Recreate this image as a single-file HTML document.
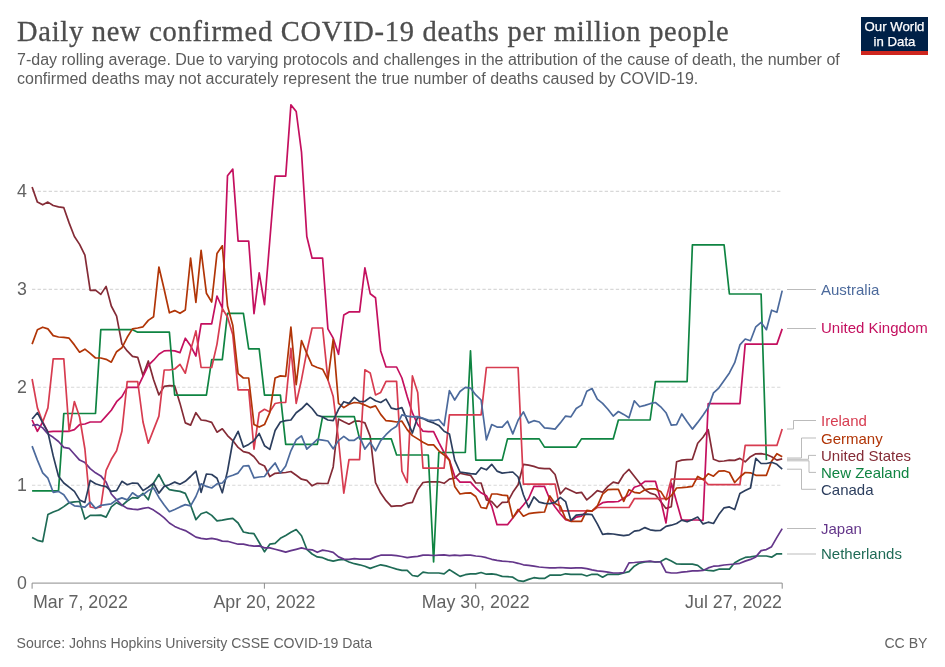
<!DOCTYPE html>
<html><head><meta charset="utf-8"><title>Daily new confirmed COVID-19 deaths per million people</title>
<style>
html,body{margin:0;padding:0;background:#fff;}
body{width:945px;height:667px;position:relative;overflow:hidden;font-family:"Liberation Sans",Arial,sans-serif;}
.title{position:absolute;left:17px;top:14px;font-family:"Liberation Serif",Georgia,serif;font-size:28.5px;line-height:36px;color:#4d4d4d;white-space:nowrap;letter-spacing:0.72px;-webkit-text-stroke:0.3px #4d4d4d;}
.sub{position:absolute;left:17px;top:50px;font-size:16px;line-height:19.3px;color:#5b5b5b;white-space:nowrap;}
.src{position:absolute;left:16.5px;top:634.7px;font-size:14.1px;line-height:16px;color:#636363;white-space:nowrap;}
.cc{position:absolute;right:17.5px;top:634.7px;font-size:14.1px;line-height:16px;color:#636363;white-space:nowrap;}
.logo{position:absolute;left:861px;top:17px;width:67px;height:34.4px;background:#002147;border-bottom:4px solid #ce261e;color:#fff;text-align:center;font-size:13.2px;line-height:14.5px;font-weight:normal;letter-spacing:0px;-webkit-text-stroke:0.25px #fff;}
.logo span{display:block;}
.logo .l1{margin-top:3.3px;}
svg text.ax{font-family:"Liberation Sans",Arial,sans-serif;font-size:17.8px;fill:#626262;}
svg text.lg{font-family:"Liberation Sans",Arial,sans-serif;font-size:15px;}
</style></head><body>
<div class="title">Daily new confirmed COVID-19 deaths per million people</div>
<div class="sub">7-day rolling average. Due to varying protocols and challenges in the attribution of the cause of death, the number of<br>confirmed deaths may not accurately represent the true number of deaths caused by COVID-19.</div>
<div class="logo"><span class="l1">Our World</span><span>in Data</span></div>
<svg width="945" height="667" viewBox="0 0 945 667" style="position:absolute;left:0;top:0">
<line x1="32" x2="782" y1="485.2" y2="485.2" stroke="#d8d8d8" stroke-width="1.1" stroke-dasharray="3.34,2.22"/>
<line x1="32" x2="782" y1="387.2" y2="387.2" stroke="#d8d8d8" stroke-width="1.1" stroke-dasharray="3.34,2.22"/>
<line x1="32" x2="782" y1="289.4" y2="289.4" stroke="#d8d8d8" stroke-width="1.1" stroke-dasharray="3.34,2.22"/>
<line x1="32" x2="782" y1="191.4" y2="191.4" stroke="#d8d8d8" stroke-width="1.1" stroke-dasharray="3.34,2.22"/>
<path d="M32.1,588.7 V583.1 H782.2 V588.7" fill="none" stroke="#8c8c8c" stroke-width="1"/>
<line x1="264.4" x2="264.4" y1="583" y2="588.7" stroke="#8c8c8c" stroke-width="1"/>
<line x1="475.7" x2="475.7" y1="583" y2="588.7" stroke="#8c8c8c" stroke-width="1"/>
<text x="27" y="588.9" text-anchor="end" class="ax">0</text>
<text x="27" y="491.0" text-anchor="end" class="ax">1</text>
<text x="27" y="393.0" text-anchor="end" class="ax">2</text>
<text x="27" y="295.2" text-anchor="end" class="ax">3</text>
<text x="27" y="197.2" text-anchor="end" class="ax">4</text>
<text x="33" y="607.8" class="ax">Mar 7, 2022</text>
<text x="264.4" y="607.8" text-anchor="middle" class="ax">Apr 20, 2022</text>
<text x="475.7" y="607.8" text-anchor="middle" class="ax">May 30, 2022</text>
<text x="782" y="607.8" text-anchor="end" class="ax">Jul 27, 2022</text>
<path d="M32.1,187.0 L37.4,202.1 L42.7,204.8 L47.9,202.1 L53.2,205.5 L58.5,206.9 L63.8,207.7 L69.1,222.9 L74.4,236.5 L79.6,244.4 L84.9,255.1 L90.2,290.3 L95.5,290.2 L100.8,294.4 L106.1,286.4 L111.3,306.0 L116.6,316.2 L121.9,344.1 L127.2,350.9 L132.5,356.3 L137.7,357.3 L143.0,375.4 L148.3,361.0 L153.6,379.7 L158.9,394.9 L164.2,386.4 L169.4,385.6 L174.7,385.9 L180.0,403.4 L185.3,422.9 L190.6,425.1 L195.9,412.7 L201.1,420.0 L206.4,420.7 L211.7,422.4 L217.0,432.2 L222.3,428.8 L227.5,435.6 L232.8,440.6 L238.1,447.4 L243.4,451.6 L248.7,452.8 L254.0,456.7 L259.2,463.5 L264.5,466.0 L269.8,476.5 L275.1,473.3 L280.4,472.8 L285.7,472.5 L290.9,471.5 L296.2,475.3 L301.5,479.2 L306.8,480.4 L312.1,485.8 L317.3,483.3 L322.6,483.5 L327.9,483.5 L333.2,466.9 L338.5,419.0 L343.8,421.7 L349.0,424.2 L354.3,421.2 L359.6,421.2 L364.9,422.9 L370.2,436.4 L375.5,482.6 L380.7,493.1 L386.0,500.7 L391.3,506.3 L396.6,505.8 L401.9,505.8 L407.2,503.3 L412.4,502.4 L417.7,489.7 L423.0,482.5 L428.3,481.8 L433.6,481.8 L438.8,481.8 L444.1,483.3 L449.4,479.2 L454.7,478.2 L460.0,473.1 L465.3,474.5 L470.5,475.3 L475.8,483.0 L481.1,483.0 L486.4,499.9 L491.7,501.6 L497.0,507.5 L502.2,502.4 L507.5,502.1 L512.8,492.3 L518.1,484.7 L523.4,464.3 L528.6,465.2 L533.9,466.4 L539.2,468.2 L544.5,468.6 L549.8,468.6 L555.1,474.5 L560.3,494.0 L565.6,488.0 L570.9,490.6 L576.2,493.1 L581.5,492.3 L586.8,499.9 L592.0,495.7 L597.3,490.6 L602.6,492.3 L607.9,486.4 L613.2,482.1 L618.4,483.3 L623.7,474.5 L629.0,469.4 L634.3,476.2 L639.6,483.0 L644.9,489.7 L650.1,493.1 L655.4,494.8 L660.7,501.6 L666.0,508.4 L671.3,506.7 L676.6,461.8 L681.8,460.1 L687.1,459.6 L692.4,459.3 L697.7,443.2 L703.0,437.3 L708.2,429.6 L713.5,459.3 L718.8,461.3 L724.1,461.0 L729.4,460.1 L734.7,460.4 L739.9,458.4 L745.2,461.8 L750.5,456.7 L755.8,453.8 L761.1,453.7 L766.4,454.5 L771.6,456.7 L776.9,460.1 L782.2,458.8" fill="none" stroke="#842B36" stroke-width="1.7" stroke-linejoin="round" stroke-linecap="butt"/>
<path d="M32.1,420.0 L37.4,431.3 L42.7,422.0 L47.9,431.8 L53.2,431.3 L58.5,431.3 L63.8,431.3 L69.1,431.3 L74.4,429.6 L79.6,424.6 L84.9,424.0 L90.2,422.0 L95.5,422.0 L100.8,422.0 L106.1,416.1 L111.3,410.2 L116.6,401.7 L121.9,396.6 L127.2,387.3 L132.5,387.3 L137.7,387.3 L143.0,376.3 L148.3,365.3 L153.6,360.2 L158.9,354.3 L164.2,350.9 L169.4,350.5 L174.7,350.9 L180.0,352.6 L185.3,338.2 L190.6,345.8 L195.9,356.0 L201.1,323.8 L206.4,323.8 L211.7,323.8 L217.0,296.0 L222.3,308.0 L227.5,175.8 L232.8,169.1 L238.1,241.1 L243.4,241.1 L248.7,241.1 L254.0,313.6 L259.2,272.9 L264.5,304.7 L269.8,240.5 L275.1,176.1 L280.4,176.1 L285.7,176.1 L290.9,104.9 L296.2,111.5 L301.5,152.1 L306.8,236.5 L312.1,258.2 L317.3,258.2 L322.6,258.2 L327.9,328.9 L333.2,338.2 L338.5,354.3 L343.8,315.0 L349.0,311.9 L354.3,311.9 L359.6,311.9 L364.9,267.8 L370.2,293.7 L375.5,297.7 L380.7,350.9 L386.0,367.0 L391.3,367.0 L396.6,367.0 L401.9,378.0 L407.2,396.6 L412.4,412.9 L417.7,424.5 L423.0,431.2 L428.3,431.7 L433.6,431.7 L438.8,442.3 L444.1,452.5 L449.4,460.1 L454.7,476.2 L460.0,482.1 L465.3,482.1 L470.5,482.1 L475.8,488.0 L481.1,492.8 L486.4,495.7 L491.7,506.0 L497.0,524.7 L502.2,524.7 L507.5,524.7 L512.8,517.9 L518.1,511.2 L523.4,505.0 L528.6,498.5 L533.9,486.4 L539.2,486.4 L544.5,486.4 L549.8,499.3 L555.1,506.9 L560.3,513.7 L565.6,519.6 L570.9,521.3 L576.2,517.1 L581.5,516.2 L586.8,511.2 L592.0,511.2 L597.3,506.1 L602.6,502.7 L607.9,501.9 L613.2,501.9 L618.4,501.5 L623.7,498.1 L629.0,495.1 L634.3,487.2 L639.6,485.5 L644.9,481.3 L650.1,481.3 L655.4,481.3 L660.7,499.9 L666.0,523.0 L671.3,483.0 L676.6,502.0 L681.8,520.2 L687.1,520.2 L692.4,520.0 L697.7,520.0 L703.0,520.5 L708.2,403.7 L713.5,403.7 L718.8,403.7 L724.1,403.7 L729.4,403.7 L734.7,403.7 L739.9,403.7 L745.2,344.1 L750.5,344.1 L755.8,344.1 L761.1,344.1 L766.4,344.1 L771.6,344.1 L776.9,344.1 L782.2,328.9" fill="none" stroke="#C4105F" stroke-width="1.7" stroke-linejoin="round" stroke-linecap="butt"/>
<path d="M32.1,490.9 L37.4,490.9 L42.7,490.9 L47.9,490.9 L53.2,490.9 L58.5,490.9 L63.8,413.5 L69.1,413.5 L74.4,413.5 L79.6,413.5 L84.9,413.5 L90.2,413.5 L95.5,413.5 L100.8,329.7 L106.1,329.7 L111.3,329.7 L116.6,329.7 L121.9,329.7 L127.2,329.7 L132.5,329.7 L137.7,332.2 L143.0,332.2 L148.3,332.2 L153.6,332.2 L158.9,332.2 L164.2,332.2 L169.4,332.2 L174.7,395.2 L180.0,395.2 L185.3,395.2 L190.6,395.2 L195.9,395.2 L201.1,395.2 L206.4,395.2 L211.7,359.7 L217.0,359.7 L222.3,359.7 L227.5,313.3 L232.8,313.3 L238.1,313.3 L243.4,313.3 L248.7,348.8 L254.0,348.8 L259.2,348.8 L264.5,395.2 L269.8,395.2 L275.1,395.2 L280.4,395.2 L285.7,444.4 L290.9,444.4 L296.2,444.4 L301.5,444.4 L306.8,444.4 L312.1,444.4 L317.3,444.4 L322.6,416.6 L327.9,416.6 L333.2,416.6 L338.5,416.6 L343.8,416.6 L349.0,416.6 L354.3,416.6 L359.6,438.9 L364.9,438.9 L370.2,438.9 L375.5,438.9 L380.7,438.9 L386.0,438.9 L391.3,438.9 L396.6,455.0 L401.9,455.0 L407.2,455.0 L412.4,455.0 L417.7,455.0 L423.0,455.0 L428.3,455.0 L433.6,562.0 L438.8,452.5 L444.1,452.5 L449.4,452.5 L454.7,452.5 L460.0,452.5 L465.3,452.5 L470.5,350.9 L475.8,460.1 L481.1,460.1 L486.4,460.1 L491.7,460.1 L497.0,460.1 L502.2,460.1 L507.5,438.9 L512.8,438.9 L518.1,438.9 L523.4,438.9 L528.6,438.9 L533.9,438.9 L539.2,438.9 L544.5,447.1 L549.8,447.1 L555.1,447.1 L560.3,447.1 L565.6,447.1 L570.9,447.1 L576.2,447.1 L581.5,438.9 L586.8,438.9 L592.0,438.9 L597.3,438.9 L602.6,438.9 L607.9,438.9 L613.2,438.9 L618.4,420.0 L623.7,420.0 L629.0,420.0 L634.3,420.0 L639.6,420.0 L644.9,420.0 L650.1,420.0 L655.4,381.7 L660.7,381.7 L666.0,381.7 L671.3,381.7 L676.6,381.7 L681.8,381.7 L687.1,381.7 L692.4,244.9 L697.7,244.9 L703.0,244.9 L708.2,244.9 L713.5,244.9 L718.8,244.9 L724.1,244.9 L729.4,294.0 L734.7,294.0 L739.9,294.0 L745.2,294.0 L750.5,294.0 L755.8,294.0 L761.1,294.0 L766.4,460.1" fill="none" stroke="#0F8442" stroke-width="1.7" stroke-linejoin="round" stroke-linecap="butt"/>
<path d="M32.1,537.4 L37.4,540.3 L42.7,541.6 L47.9,514.6 L53.2,512.0 L58.5,510.0 L63.8,506.6 L69.1,502.7 L74.4,501.9 L79.6,501.5 L84.9,519.1 L90.2,515.4 L95.5,515.4 L100.8,515.1 L106.1,517.1 L111.3,506.9 L116.6,502.7 L121.9,505.6 L127.2,501.0 L132.5,497.6 L137.7,498.1 L143.0,493.4 L148.3,499.8 L153.6,483.0 L158.9,474.5 L164.2,484.7 L169.4,489.7 L174.7,490.6 L180.0,491.4 L185.3,493.4 L190.6,505.2 L195.9,519.6 L201.1,513.7 L206.4,512.0 L211.7,515.4 L217.0,520.8 L222.3,520.1 L227.5,519.1 L232.8,518.4 L238.1,523.0 L243.4,532.0 L248.7,533.2 L254.0,533.7 L259.2,542.5 L264.5,551.8 L269.8,544.2 L275.1,543.3 L280.4,538.3 L285.7,535.4 L290.9,532.3 L296.2,529.5 L301.5,535.7 L306.8,549.3 L312.1,554.0 L317.3,556.9 L322.6,557.7 L327.9,559.9 L333.2,561.1 L338.5,559.8 L343.8,559.4 L349.0,562.0 L354.3,563.7 L359.6,564.8 L364.9,566.2 L370.2,568.4 L375.5,566.5 L380.7,564.8 L386.0,565.9 L391.3,567.5 L396.6,569.1 L401.9,570.4 L407.2,570.4 L412.4,575.5 L417.7,576.4 L423.0,572.1 L428.3,573.0 L433.6,573.0 L438.8,573.0 L444.1,573.8 L449.4,569.6 L454.7,573.0 L460.0,576.4 L465.3,574.7 L470.5,573.8 L475.8,573.8 L481.1,572.5 L486.4,574.2 L491.7,573.8 L497.0,574.7 L502.2,576.4 L507.5,576.7 L512.8,577.2 L518.1,580.6 L523.4,581.4 L528.6,579.4 L533.9,577.7 L539.2,578.4 L544.5,578.4 L549.8,575.2 L555.1,575.2 L560.3,575.2 L565.6,573.8 L570.9,574.3 L576.2,574.3 L581.5,574.3 L586.8,576.0 L592.0,574.3 L597.3,574.3 L602.6,577.2 L607.9,574.3 L613.2,574.3 L618.4,574.3 L623.7,573.0 L629.0,571.6 L634.3,566.2 L639.6,563.1 L644.9,562.0 L650.1,561.5 L655.4,562.0 L660.7,561.5 L666.0,558.6 L671.3,561.1 L676.6,564.0 L681.8,564.2 L687.1,564.2 L692.4,564.2 L697.7,565.3 L703.0,569.6 L708.2,570.4 L713.5,570.9 L718.8,569.2 L724.1,569.1 L729.4,569.1 L734.7,562.8 L739.9,559.8 L745.2,557.4 L750.5,556.9 L755.8,556.0 L761.1,556.0 L766.4,556.0 L771.6,557.2 L776.9,553.8 L782.2,553.8" fill="none" stroke="#1F6B56" stroke-width="1.7" stroke-linejoin="round" stroke-linecap="butt"/>
<path d="M32.1,425.4 L37.4,424.6 L42.7,427.9 L47.9,433.9 L53.2,437.3 L58.5,441.5 L63.8,447.4 L69.1,448.3 L74.4,454.2 L79.6,460.1 L84.9,462.6 L90.2,468.6 L95.5,472.8 L100.8,475.9 L106.1,482.1 L111.3,494.0 L116.6,499.9 L121.9,505.0 L127.2,508.4 L132.5,509.2 L137.7,509.7 L143.0,508.4 L148.3,507.5 L153.6,510.1 L158.9,513.7 L164.2,517.9 L169.4,523.0 L174.7,526.4 L180.0,528.8 L185.3,530.6 L190.6,533.7 L195.9,537.1 L201.1,538.3 L206.4,539.1 L211.7,538.3 L217.0,539.4 L222.3,541.1 L227.5,541.3 L232.8,542.8 L238.1,544.2 L243.4,544.2 L248.7,545.4 L254.0,546.2 L259.2,545.9 L264.5,547.9 L269.8,547.9 L275.1,549.3 L280.4,550.6 L285.7,552.1 L290.9,550.6 L296.2,549.3 L301.5,547.9 L306.8,549.3 L312.1,549.8 L317.3,552.3 L322.6,550.1 L327.9,551.0 L333.2,552.3 L338.5,556.9 L343.8,559.1 L349.0,559.4 L354.3,558.6 L359.6,559.1 L364.9,559.1 L370.2,559.1 L375.5,556.9 L380.7,555.2 L386.0,555.2 L391.3,555.2 L396.6,555.7 L401.9,556.5 L407.2,557.7 L412.4,556.9 L417.7,556.4 L423.0,555.2 L428.3,555.2 L433.6,555.5 L438.8,555.2 L444.1,554.8 L449.4,555.7 L454.7,555.2 L460.0,555.7 L465.3,555.2 L470.5,555.2 L475.8,556.0 L481.1,556.5 L486.4,557.7 L491.7,559.3 L497.0,560.3 L502.2,561.1 L507.5,561.5 L512.8,562.0 L518.1,563.3 L523.4,564.8 L528.6,565.3 L533.9,566.2 L539.2,567.0 L544.5,567.5 L549.8,567.9 L555.1,567.9 L560.3,567.5 L565.6,567.9 L570.9,568.2 L576.2,567.9 L581.5,567.9 L586.8,568.7 L592.0,569.9 L597.3,570.8 L602.6,571.3 L607.9,572.1 L613.2,573.0 L618.4,573.0 L623.7,572.6 L629.0,562.8 L634.3,562.5 L639.6,562.0 L644.9,561.5 L650.1,561.1 L655.4,562.0 L660.7,562.0 L666.0,572.1 L671.3,573.0 L676.6,573.0 L681.8,572.1 L687.1,571.6 L692.4,570.9 L697.7,570.8 L703.0,570.4 L708.2,567.9 L713.5,566.2 L718.8,565.9 L724.1,565.0 L729.4,564.5 L734.7,564.0 L739.9,563.3 L745.2,561.1 L750.5,559.4 L755.8,556.9 L761.1,550.6 L766.4,549.6 L771.6,546.7 L776.9,537.4 L782.2,528.6" fill="none" stroke="#64368A" stroke-width="1.7" stroke-linejoin="round" stroke-linecap="butt"/>
<path d="M32.1,379.0 L37.4,407.9 L42.7,422.0 L47.9,407.9 L53.2,358.8 L58.5,358.8 L63.8,358.8 L69.1,431.3 L74.4,401.5 L79.6,417.0 L84.9,449.0 L90.2,507.0 L95.5,508.0 L100.8,507.0 L106.1,470.3 L111.3,459.3 L116.6,450.8 L121.9,431.3 L127.2,381.7 L132.5,381.7 L137.7,381.7 L143.0,422.0 L148.3,443.2 L153.6,429.6 L158.9,416.1 L164.2,370.0 L169.4,370.0 L174.7,369.0 L180.0,364.4 L185.3,373.2 L190.6,350.5 L195.9,330.9 L201.1,367.5 L206.4,367.5 L211.7,367.5 L217.0,344.1 L222.3,308.5 L227.5,317.0 L232.8,334.8 L238.1,389.8 L243.4,389.8 L248.7,389.8 L254.0,449.1 L259.2,412.7 L264.5,409.3 L269.8,411.9 L275.1,403.5 L280.4,402.5 L285.7,402.5 L290.9,348.3 L296.2,403.4 L301.5,379.7 L306.8,351.7 L312.1,328.0 L317.3,328.0 L322.6,328.0 L327.9,379.7 L333.2,396.6 L338.5,440.0 L343.8,493.1 L349.0,459.6 L354.3,459.6 L359.6,459.6 L364.9,369.8 L370.2,372.9 L375.5,394.9 L380.7,392.4 L386.0,381.4 L391.3,381.4 L396.6,381.4 L401.9,471.1 L407.2,482.5 L412.4,375.9 L417.7,392.4 L423.0,468.2 L428.3,468.2 L433.6,468.2 L438.8,468.2 L444.1,468.2 L449.4,414.9 L454.7,414.9 L460.0,414.9 L465.3,414.9 L470.5,414.9 L475.8,414.9 L481.1,414.9 L486.4,367.5 L491.7,367.5 L497.0,367.5 L502.2,367.5 L507.5,367.5 L512.8,367.5 L518.1,367.5 L523.4,484.2 L528.6,484.2 L533.9,484.2 L539.2,484.2 L544.5,484.2 L549.8,484.2 L555.1,484.2 L560.3,510.9 L565.6,510.9 L570.9,510.9 L576.2,510.9 L581.5,510.9 L586.8,510.9 L592.0,510.9 L597.3,507.5 L602.6,507.5 L607.9,507.5 L613.2,507.5 L618.4,507.5 L623.7,507.5 L629.0,507.5 L634.3,498.7 L639.6,498.7 L644.9,498.7 L650.1,498.7 L655.4,498.7 L660.7,498.7 L666.0,498.7 L671.3,479.2 L676.6,479.2 L681.8,479.2 L687.1,479.2 L692.4,479.2 L697.7,479.2 L703.0,479.2 L708.2,484.7 L713.5,484.7 L718.8,484.7 L724.1,484.7 L729.4,484.7 L734.7,484.7 L739.9,484.7 L745.2,445.4 L750.5,445.4 L755.8,445.4 L761.1,445.4 L766.4,445.4 L771.6,445.4 L776.9,445.4 L782.2,429.1" fill="none" stroke="#D73C50" stroke-width="1.7" stroke-linejoin="round" stroke-linecap="butt"/>
<path d="M32.1,344.1 L37.4,329.7 L42.7,327.2 L47.9,328.9 L53.2,335.6 L58.5,337.0 L63.8,337.3 L69.1,338.2 L74.4,344.9 L79.6,352.2 L84.9,349.2 L90.2,353.4 L95.5,358.0 L100.8,358.0 L106.1,359.3 L111.3,362.2 L116.6,351.7 L121.9,347.8 L127.2,337.3 L132.5,328.9 L137.7,328.0 L143.0,326.8 L148.3,320.4 L153.6,316.7 L158.9,267.0 L164.2,289.5 L169.4,312.8 L174.7,310.6 L180.0,313.3 L185.3,310.0 L190.6,258.0 L195.9,302.5 L201.1,250.4 L206.4,293.2 L211.7,302.0 L217.0,253.4 L222.3,245.8 L227.5,306.0 L232.8,325.5 L238.1,373.7 L243.4,378.0 L248.7,378.0 L254.0,424.6 L259.2,427.1 L264.5,424.6 L269.8,412.7 L275.1,378.0 L280.4,375.9 L285.7,376.3 L290.9,327.2 L296.2,384.7 L301.5,340.7 L306.8,353.4 L312.1,365.3 L317.3,367.5 L322.6,369.2 L327.9,379.7 L333.2,339.4 L338.5,403.4 L343.8,407.6 L349.0,404.2 L354.3,402.5 L359.6,403.0 L364.9,405.1 L370.2,407.6 L375.5,405.9 L380.7,414.4 L386.0,420.7 L391.3,421.2 L396.6,422.0 L401.9,421.2 L407.2,429.6 L412.4,435.6 L417.7,438.9 L423.0,442.3 L428.3,444.9 L433.6,444.9 L438.8,450.8 L444.1,455.0 L449.4,460.1 L454.7,486.4 L460.0,494.0 L465.3,493.1 L470.5,492.8 L475.8,496.5 L481.1,507.5 L486.4,508.4 L491.7,494.0 L497.0,494.0 L502.2,495.2 L507.5,495.7 L512.8,517.9 L518.1,509.5 L523.4,516.2 L528.6,513.7 L533.9,512.9 L539.2,512.4 L544.5,512.0 L549.8,495.9 L555.1,503.5 L560.3,506.1 L565.6,518.8 L570.9,521.3 L576.2,521.3 L581.5,521.3 L586.8,510.3 L592.0,511.2 L597.3,506.1 L602.6,494.2 L607.9,489.7 L613.2,489.4 L618.4,489.4 L623.7,501.3 L629.0,489.7 L634.3,492.3 L639.6,493.1 L644.9,489.7 L650.1,488.9 L655.4,488.9 L660.7,491.4 L666.0,499.9 L671.3,495.7 L676.6,488.0 L681.8,487.7 L687.1,487.2 L692.4,486.4 L697.7,476.5 L703.0,479.6 L708.2,473.7 L713.5,476.2 L718.8,471.1 L724.1,470.8 L729.4,472.5 L734.7,482.5 L739.9,477.0 L745.2,472.5 L750.5,472.8 L755.8,475.3 L761.1,475.3 L766.4,475.3 L771.6,461.3 L776.9,453.7 L782.2,456.7" fill="none" stroke="#B13507" stroke-width="1.7" stroke-linejoin="round" stroke-linecap="butt"/>
<path d="M32.1,419.0 L37.4,412.7 L42.7,422.9 L47.9,432.2 L53.2,455.9 L58.5,476.2 L63.8,483.0 L69.1,487.2 L74.4,491.4 L79.6,499.9 L84.9,502.4 L90.2,480.4 L95.5,483.8 L100.8,485.5 L106.1,486.7 L111.3,491.4 L116.6,490.6 L121.9,481.3 L127.2,484.7 L132.5,483.0 L137.7,483.3 L143.0,490.6 L148.3,487.2 L153.6,483.3 L158.9,493.1 L164.2,486.4 L169.4,484.7 L174.7,482.1 L180.0,484.2 L185.3,481.3 L190.6,476.5 L195.9,471.1 L201.1,492.3 L206.4,474.0 L211.7,474.5 L217.0,478.2 L222.3,492.8 L227.5,471.1 L232.8,441.5 L238.1,431.3 L243.4,447.1 L248.7,444.4 L254.0,440.6 L259.2,433.5 L264.5,445.7 L269.8,449.4 L275.1,430.5 L280.4,422.0 L285.7,420.7 L290.9,420.0 L296.2,412.7 L301.5,408.8 L306.8,403.4 L312.1,408.5 L317.3,415.2 L322.6,416.9 L327.9,420.0 L333.2,420.7 L338.5,409.3 L343.8,401.7 L349.0,403.4 L354.3,397.4 L359.6,401.7 L364.9,401.3 L370.2,397.4 L375.5,400.8 L380.7,402.5 L386.0,399.1 L391.3,408.1 L396.6,409.3 L401.9,407.6 L407.2,420.3 L412.4,433.0 L417.7,416.9 L423.0,418.6 L428.3,421.2 L433.6,422.9 L438.8,425.4 L444.1,431.3 L449.4,433.9 L454.7,460.1 L460.0,472.0 L465.3,472.8 L470.5,473.7 L475.8,474.2 L481.1,467.7 L486.4,469.8 L491.7,464.3 L497.0,471.1 L502.2,473.1 L507.5,472.5 L512.8,472.0 L518.1,477.0 L523.4,494.8 L528.6,507.5 L533.9,496.9 L539.2,502.1 L544.5,503.3 L549.8,503.6 L555.1,502.4 L560.3,497.4 L565.6,501.6 L570.9,520.5 L576.2,515.1 L581.5,514.6 L586.8,514.2 L592.0,514.6 L597.3,523.9 L602.6,534.4 L607.9,533.7 L613.2,534.0 L618.4,534.9 L623.7,535.7 L629.0,534.9 L634.3,531.1 L639.6,530.3 L644.9,527.6 L650.1,529.8 L655.4,530.6 L660.7,530.3 L666.0,526.4 L671.3,525.2 L676.6,523.5 L681.8,520.1 L687.1,521.8 L692.4,519.6 L697.7,517.1 L703.0,523.9 L708.2,522.2 L713.5,523.5 L718.8,514.6 L724.1,507.8 L729.4,506.9 L734.7,509.5 L739.9,493.4 L745.2,490.6 L750.5,488.0 L755.8,458.4 L761.1,463.5 L766.4,463.5 L771.6,462.3 L776.9,464.3 L782.2,469.1" fill="none" stroke="#2C3E5E" stroke-width="1.7" stroke-linejoin="round" stroke-linecap="butt"/>
<path d="M32.1,446.1 L37.4,460.1 L42.7,472.8 L47.9,478.2 L53.2,492.3 L58.5,491.4 L63.8,494.8 L69.1,502.4 L74.4,505.8 L79.6,506.3 L84.9,507.2 L90.2,502.1 L95.5,508.4 L100.8,505.3 L106.1,504.6 L111.3,503.8 L116.6,499.9 L121.9,497.9 L127.2,499.9 L132.5,492.8 L137.7,496.5 L143.0,494.8 L148.3,490.6 L153.6,488.0 L158.9,497.4 L164.2,505.0 L169.4,511.7 L174.7,509.5 L180.0,506.9 L185.3,504.6 L190.6,505.8 L195.9,496.5 L201.1,483.8 L206.4,486.4 L211.7,488.0 L217.0,483.8 L222.3,483.0 L227.5,477.0 L232.8,475.3 L238.1,473.1 L243.4,466.0 L248.7,465.7 L254.0,477.9 L259.2,477.0 L264.5,476.5 L269.8,469.1 L275.1,463.0 L280.4,473.1 L285.7,466.0 L290.9,450.8 L296.2,439.8 L301.5,435.9 L306.8,449.1 L312.1,444.4 L317.3,439.3 L322.6,440.1 L327.9,441.0 L333.2,448.8 L338.5,440.6 L343.8,436.4 L349.0,440.3 L354.3,440.3 L359.6,436.4 L364.9,449.1 L370.2,442.3 L375.5,450.8 L380.7,440.6 L386.0,434.7 L391.3,429.6 L396.6,426.2 L401.9,414.9 L407.2,416.1 L412.4,416.9 L417.7,416.6 L423.0,418.3 L428.3,420.0 L433.6,420.7 L438.8,419.5 L444.1,425.7 L449.4,390.7 L454.7,400.0 L460.0,391.5 L465.3,387.3 L470.5,388.1 L475.8,394.9 L481.1,400.0 L486.4,439.8 L491.7,424.6 L497.0,427.1 L502.2,427.1 L507.5,421.2 L512.8,433.9 L518.1,420.3 L523.4,411.9 L528.6,422.9 L533.9,420.7 L539.2,422.0 L544.5,427.9 L549.8,428.4 L555.1,429.1 L560.3,422.9 L565.6,416.1 L570.9,416.9 L576.2,408.5 L581.5,405.1 L586.8,391.2 L592.0,388.5 L597.3,399.1 L602.6,403.4 L607.9,409.3 L613.2,416.1 L618.4,411.5 L623.7,414.4 L629.0,417.8 L634.3,400.8 L639.6,406.8 L644.9,405.4 L650.1,403.7 L655.4,402.5 L660.7,406.8 L666.0,412.7 L671.3,425.1 L676.6,424.6 L681.8,413.9 L687.1,421.7 L692.4,429.1 L697.7,422.4 L703.0,415.2 L708.2,407.6 L713.5,392.9 L718.8,388.1 L724.1,380.5 L729.4,372.9 L734.7,362.7 L739.9,344.9 L745.2,339.0 L750.5,340.7 L755.8,326.8 L761.1,322.4 L766.4,329.7 L771.6,310.2 L776.9,312.3 L782.2,290.6" fill="none" stroke="#4C6A9C" stroke-width="1.7" stroke-linejoin="round" stroke-linecap="butt"/>
<path d="M787.0,289.5 L816.0,289.5" fill="none" stroke="#aaa" stroke-width="0.8"/>
<path d="M787.0,328.5 L816.0,328.5" fill="none" stroke="#aaa" stroke-width="0.8"/>
<path d="M787.0,429.0 L793.5,429.0 L793.5,420.5 L816.0,420.5" fill="none" stroke="#aaa" stroke-width="0.8"/>
<path d="M787.0,458.0 L801.5,458.0 L801.5,438.0 L816.0,438.0" fill="none" stroke="#aaa" stroke-width="0.8"/>
<path d="M787.0,459.3 L808.5,459.3 L808.5,455.4 L816.0,455.4" fill="none" stroke="#aaa" stroke-width="0.8"/>
<path d="M787.0,460.8 L809.0,460.8 L809.0,472.4 L816.0,472.4" fill="none" stroke="#aaa" stroke-width="0.8"/>
<path d="M787.0,469.2 L801.5,469.2 L801.5,489.3 L816.0,489.3" fill="none" stroke="#aaa" stroke-width="0.8"/>
<path d="M787.0,528.5 L816.0,528.5" fill="none" stroke="#aaa" stroke-width="0.8"/>
<path d="M787.0,554.0 L816.0,554.0" fill="none" stroke="#aaa" stroke-width="0.8"/>
<text x="821" y="295.0" class="lg" fill="#4C6A9C">Australia</text>
<text x="821" y="333.0" class="lg" fill="#C4105F">United Kingdom</text>
<text x="821" y="425.8" class="lg" fill="#D73C50">Ireland</text>
<text x="821" y="443.7" class="lg" fill="#B13507">Germany</text>
<text x="821" y="460.9" class="lg" fill="#842B36">United States</text>
<text x="821" y="477.6" class="lg" fill="#0F8442">New Zealand</text>
<text x="821" y="494.8" class="lg" fill="#2C3E5E">Canada</text>
<text x="821" y="533.7" class="lg" fill="#64368A">Japan</text>
<text x="821" y="559.2" class="lg" fill="#1F6B56">Netherlands</text>
</svg>
<div class="src">Source: Johns Hopkins University CSSE COVID-19 Data</div>
<div class="cc">CC BY</div>
</body></html>
